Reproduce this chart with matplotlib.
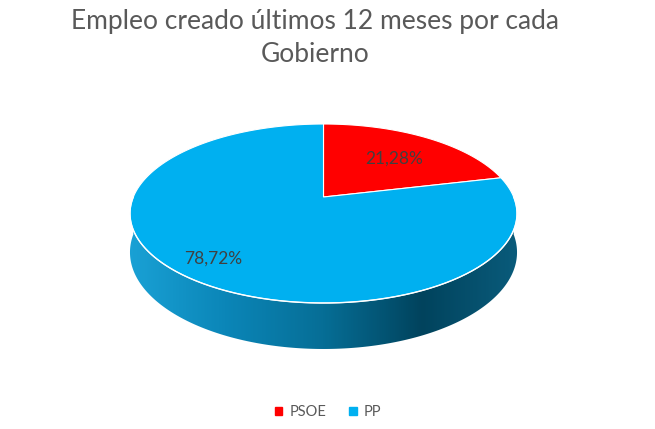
import numpy as np
import matplotlib.pyplot as plt
from matplotlib.patches import Polygon
from matplotlib.colors import LinearSegmentedColormap

# data
labels = ["PSOE", "PP"]
shares = [21.28, 78.72]
colors = ["#ff0000", "#00b0f0"]
pct_labels = ["21,28%", "78,72%"]
title = "Empleo creado últimos 12 meses por cada\nGobierno"

plt.rcParams["font.family"] = ["Lato", "DejaVu Sans"]

W, H = 655, 429
fig = plt.figure(figsize=(W / 100, H / 100), dpi=100)
ax = fig.add_axes([0, 0, 1, 1])

# simple perspective: unit pie (u, v) -> pixels
CX, CY = 323.5, 197.0
K, B, C = 190.2, -50.13, 0.1844
DEPTH = 37.5


def proj(u, v, drop=0.0):
    s = 1.0 / (1.0 + C * v)
    return CX + K * u * s, (CY + B * v) * s + drop * s


wedges, _ = ax.pie(shares, colors=colors, startangle=90, counterclock=False,
                   radius=1, center=(0, 0))
for w, col in zip(wedges, colors):
    th = np.radians(np.linspace(w.theta1, w.theta2, 200))
    u = np.concatenate([[w.center[0]], w.center[0] + w.r * np.cos(th)])
    v = np.concatenate([[w.center[1]], w.center[1] + w.r * np.sin(th)])
    w.remove()
    x, y = proj(u, v)
    ax.add_patch(Polygon(np.column_stack([x, y]), closed=True, facecolor=col,
                         edgecolor="white", linewidth=0.8, zorder=3))

ax.set_aspect("auto")
ax.set_xlim(0, W)
ax.set_ylim(H, 0)
ax.axis("off")

# side of the 3d pie (front half only)
t = np.linspace(np.pi, 2 * np.pi, 300)
xt, yt = proj(np.cos(t), np.sin(t))
xb, yb = proj(np.cos(t), np.sin(t), DEPTH)
side = Polygon(np.vstack([np.column_stack([xt, yt]),
                          np.column_stack([xb, yb])[::-1]]),
               closed=True, facecolor="none", edgecolor="none", zorder=2)
ax.add_patch(side)
grad = LinearSegmentedColormap.from_list(
    "side", ["#1aa2d6", "#0b86b8", "#066e96", "#01435d", "#0a5c7c"])
g = np.linspace(0, 1, 300).reshape(1, -1)
im = ax.imshow(g, cmap=grad, extent=(125, 522, 360, 150),
               aspect="auto", zorder=2, interpolation="bilinear")
im.set_clip_path(side)
ax.plot(xt, yt, color="white", lw=1.0, zorder=4)

# percentage labels
ax.text(394, 159, pct_labels[0], fontsize=12.5, color="#404040",
        ha="center", va="center", zorder=5)
ax.text(213, 259, pct_labels[1], fontsize=12.5, color="#404040",
        ha="center", va="center", zorder=5)

fig.text(315 / W, 1 - 38 / H, title, fontsize=19, color="#595959",
         ha="center", va="center", linespacing=1.38)

handles = [plt.Rectangle((0, 0), 1, 1, color=c) for c in colors]
fig.legend(handles, labels, loc="center", bbox_to_anchor=(328 / W, 1 - 412 / H),
           ncol=2, frameon=False, fontsize=10.5, handlelength=0.5, handleheight=0.5,
           handletextpad=0.5, columnspacing=1.6, labelcolor="#595959")

fig.savefig("out.png", dpi=100, facecolor="white")
